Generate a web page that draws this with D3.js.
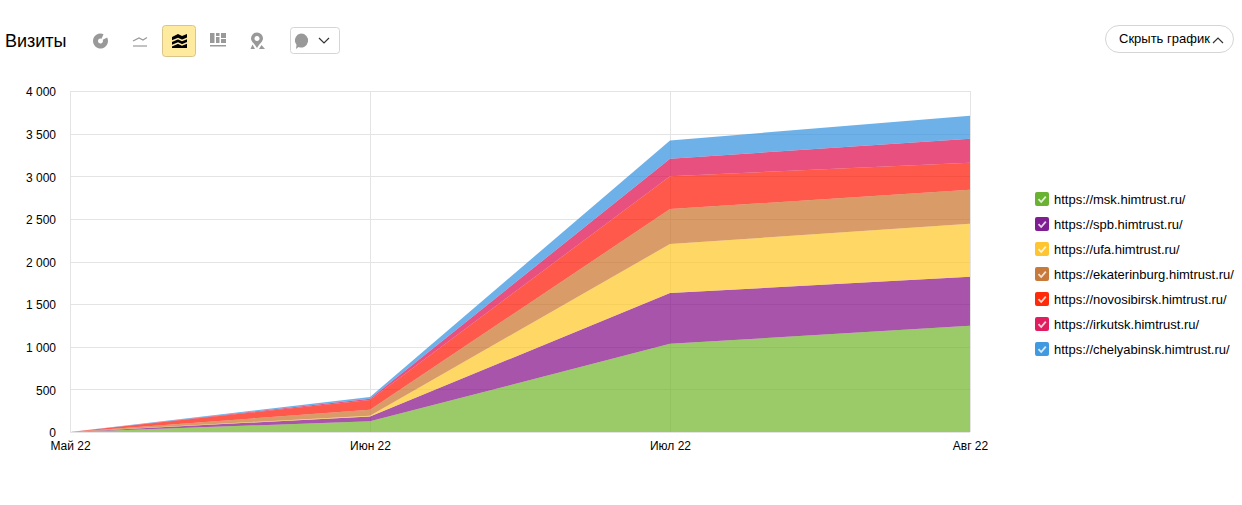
<!DOCTYPE html>
<html>
<head>
<meta charset="utf-8">
<script src="https://cdn.jsdelivr.net/npm/d3@7/dist/d3.min.js"></script>
<style>
  html, body { margin: 0; background: #fff; }
  svg { display: block; font-family: Arial, "Liberation Sans", sans-serif; }
</style>
</head>
<body>
<svg id="chart" width="1242" height="505"></svg>
<script>
// Visits per month, one array per site.
const months = ["Май 22", "Июн 22", "Июл 22", "Авг 22"];
const sites = [
  "https://msk.himtrust.ru/",
  "https://spb.himtrust.ru/",
  "https://ufa.himtrust.ru/",
  "https://ekaterinburg.himtrust.ru/",
  "https://novosibirsk.himtrust.ru/",
  "https://irkutsk.himtrust.ru/",
  "https://chelyabinsk.himtrust.ru/",
];
const msk = [1, 125, 1035, 1245];
const spb = [0, 58, 595, 575];
const ufa = [0, 8, 575, 622];
const ekb = [0, 70, 410, 400];
const nsk = [0, 115, 385, 317];
const irk = [0, 15, 205, 282];
const chl = [0, 20, 215, 270];
const seriesValues = [msk, spb, ufa, ekb, nsk, irk, chl];

const yTicks = [0, 500, 1000, 1500, 2000, 2500, 3000, 3500, 4000];
const colors = ["#70b529", "#830c87", "#ffc622", "#c9722a", "#ff1300", "#de0749", "#3190de"];
const legendColors = ["#6ab232", "#7f1d93", "#ffc531", "#c77a3a", "#ff2a0a", "#e01d5e", "#419ae0"];

const svg = d3.select("#chart");
const margin = { top: 91, left: 70, right: 970, bottom: 432 };

const x = d3.scalePoint().domain(months).range([margin.left, margin.right]);
const y = d3.scaleLinear().domain([0, 4000]).range([margin.bottom, margin.top]);

// Grid
const gridColor = "#e4e4e4";
svg.append("g").selectAll("line").data(yTicks).join("line")
  .attr("x1", margin.left).attr("x2", margin.right)
  .attr("y1", (d) => Math.round(y(d)) + 0.5).attr("y2", (d) => Math.round(y(d)) + 0.5)
  .attr("stroke", gridColor);
svg.append("g").selectAll("line").data(months).join("line")
  .attr("x1", (d) => Math.round(x(d)) + 0.5).attr("x2", (d) => Math.round(x(d)) + 0.5)
  .attr("y1", margin.top).attr("y2", margin.bottom)
  .attr("stroke", gridColor);

// Stacked areas
const rows = months.map((m, i) => {
  const row = { month: m };
  sites.forEach((s, k) => { row[s] = seriesValues[k][i]; });
  return row;
});
const stacked = d3.stack().keys(sites)(rows);
const area = d3.area()
  .x((d) => x(d.data.month))
  .y0((d) => y(d[0]))
  .y1((d) => y(d[1]));
svg.append("g").selectAll("path").data(stacked).join("path")
  .attr("d", area)
  .attr("fill", (d, i) => colors[i])
  .attr("fill-opacity", 0.7);

// Axes labels
const yAxis = d3.axisLeft(y).tickValues(yTicks).tickSize(0).tickPadding(14)
  .tickFormat((d) => d3.format(",")(d).replace(",", "\u00a0"));
svg.append("g").attr("transform", `translate(${margin.left},1)`).call(yAxis)
  .call((g) => g.select(".domain").remove())
  .call((g) => g.selectAll("text").attr("font-size", 12).attr("fill", "#000")
    .attr("font-family", "Arial, 'Liberation Sans', sans-serif"));
const xAxis = d3.axisBottom(x).tickSize(0).tickPadding(9);
svg.append("g").attr("transform", `translate(0,${margin.bottom})`).call(xAxis)
  .call((g) => g.select(".domain").remove())
  .call((g) => g.selectAll("text").attr("font-size", 12).attr("fill", "#000")
    .attr("font-family", "Arial, 'Liberation Sans', sans-serif"));

// Legend
const legend = svg.append("g").selectAll("g").data(sites).join("g")
  .attr("transform", (d, i) => `translate(1035,${192 + i * 25})`);
legend.append("rect").attr("width", 14).attr("height", 14).attr("rx", 2)
  .attr("fill", (d, i) => legendColors[i]);
legend.append("path").attr("d", "M3.5 7.2 L6.2 10 L10.8 4.6")
  .attr("fill", "none").attr("stroke", "#fff").attr("stroke-opacity", 0.8).attr("stroke-width", 1.8);
legend.append("text").attr("x", 19).attr("y", 12)
  .attr("font-size", 13).attr("fill", "#000").text((d) => d);

// Toolbar
svg.append("text").attr("x", 5).attr("y", 47).attr("font-size", 18).attr("fill", "#000").text("Визиты");

const iconGrey = "#999";
svg.append("rect").attr("x", 162.5).attr("y", 25.5).attr("width", 33).attr("height", 31).attr("rx", 3)
  .attr("fill", "#ffeba0").attr("stroke", "#d9c48a");

// pie icon
const pieArc = d3.arc().innerRadius(2.5).outerRadius(7.5);
svg.append("path").attr("transform", "translate(100.5,41)")
  .attr("d", pieArc({ startAngle: 1.1, endAngle: 6.7 })).attr("fill", iconGrey);

// line icon
svg.append("path").attr("d", "M133 41 L139 38 L143 40 L147 37.5").attr("fill", "none").attr("stroke", iconGrey).attr("stroke-width", 1.2);
svg.append("path").attr("d", "M133 46 L147 46").attr("fill", "none").attr("stroke", iconGrey).attr("stroke-width", 1.2);

// stacked icon: black block cut by two light waves
svg.append("path")
  .attr("d", "M172 37 L178 34 L182 36 L187 34 L187 48 L172 48 Z")
  .attr("fill", "#000");
svg.append("path")
  .attr("d", "M171 41.5 L178 38.5 L182 40.5 L188 38 M171 46 L178 43 L182 45 L188 42.5")
  .attr("fill", "none").attr("stroke", "#ffeba0").attr("stroke-width", 1.5);

// bars icon
svg.append("path")
  .attr("d", "M210 33h4.5v10h-4.5z M216 37h3.5v6h-3.5z M216 33h3.5v3h-3.5z M221 33h5v5h-5z M221 39h5v4h-5z M210 45h16v1.5h-16z")
  .attr("fill", iconGrey);

// map pin icon
svg.append("path")
  .attr("d", "M257 32.5 a6 6 0 0 1 6 6 c0 3 -3.5 5 -6 9.5 c-2.5 -4.5 -6 -6.5 -6 -9.5 a6 6 0 0 1 6 -6 Z M257 36 a2.5 2.5 0 1 0 0.01 0 Z M250.5 49 L252.5 44.5 L255 49 Z M259 49 L261.5 45 L265 49 Z")
  .attr("fill", iconGrey).attr("fill-rule", "evenodd");

// comment dropdown
svg.append("rect").attr("x", 290.5).attr("y", 27.5).attr("width", 49).attr("height", 26).attr("rx", 3)
  .attr("fill", "#fff").attr("stroke", "#d5d5d5");
svg.append("path").attr("d", "M301 33.5 a7 7 0 1 1 -2.5 13.5 L296 49 L296.5 44.8 a7 7 0 0 1 4.5 -11.3 Z").attr("fill", iconGrey);
svg.append("path").attr("d", "M319 38 L324 43 L329 38").attr("fill", "none").attr("stroke", "#333").attr("stroke-width", 1.2);

// hide chart button
svg.append("rect").attr("x", 1105.5).attr("y", 25.5).attr("width", 128).attr("height", 27).attr("rx", 13.5)
  .attr("fill", "#fff").attr("stroke", "#d5d5d5");
svg.append("text").attr("x", 1119).attr("y", 43).attr("font-size", 13).attr("fill", "#000").text("Скрыть график");
svg.append("path").attr("d", "M1213 43 L1218 38 L1223 43").attr("fill", "none").attr("stroke", "#333").attr("stroke-width", 1.2);
</script>
</body>
</html>
